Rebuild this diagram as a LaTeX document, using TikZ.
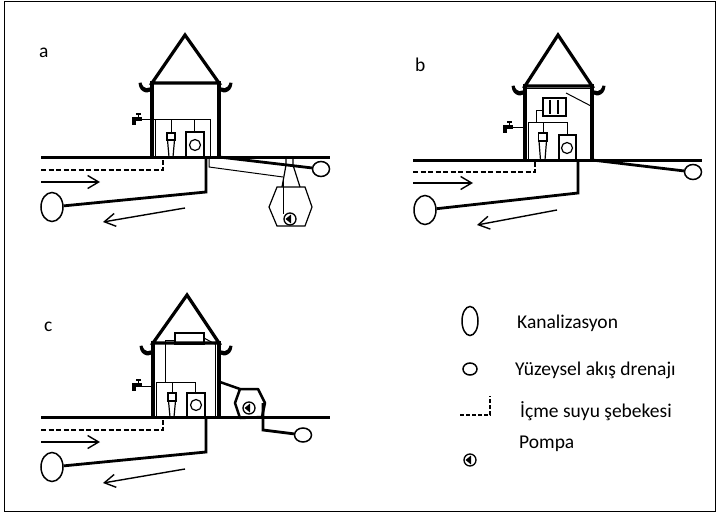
\documentclass[tikz,border=0pt]{standalone}
\usepackage{fontspec}
\setmainfont{Carlito}
\usetikzlibrary{arrows.meta,shapes.geometric}
\begin{document}
\begin{tikzpicture}[x=1pt,y=-1pt,
  wall/.style={line width=3.2pt,line join=miter,line cap=rect},
  ground/.style={line width=3pt},
  thinpipe/.style={line width=1pt},
  pipe/.style={line width=2.8pt,line join=miter},
  water/.style={line width=1.5pt,dash pattern=on 5pt off 2.5pt},
  flow/.style={line width=1.4pt,-{Straight Barb[length=11pt,width=13pt,line width=1.4pt]}},
  sewer/.style={ellipse,draw,line width=1.5pt,minimum width=22pt,minimum height=29pt,inner sep=0pt},
  drain/.style={ellipse,draw,line width=1.5pt,minimum width=17pt,minimum height=15pt,inner sep=0pt},
  lbl/.style={anchor=base west,inner sep=0pt,font=\fontsize{19.5}{22}\selectfont},
  tank/.style={line width=1.2pt},
  curl/.pic={\fill (-13.5,-2) .. controls (-12.5,9.5) and (-1,9.5) .. (1,3) -- (1,-0.5)
              .. controls (-3,5) and (-9,4.5) .. (-10.5,-2.5) -- cycle;},
  pump/.pic={\draw[line width=1.3pt,fill=white] (0,0) circle (6);
             \fill (-4.5,0) -- (1,-4.5) -- (1,4.5) -- cycle;},
  tap/.pic={\fill (0,3) rectangle (10,7); \fill (0,7) rectangle (3.5,11);
            \draw[line width=1.2pt] (4,0) -- (9,0); \draw[line width=1pt] (6.5,0) -- (6.5,3);}
]
\useasboundingbox (0,0) rectangle (717,516);
\draw[line width=1pt] (4.5,1.5) rectangle (715.5,511);

% ---------------- panel a ----------------
\node[lbl] (la) at (39,58) {a};
\draw[wall] (152,83) -- (185,35) -- (219,83) -- cycle;
\draw[wall] (152,83) -- (152,157) (219,83) -- (219,157);
\pic at (152,85) {curl};
\pic[xscale=-1] at (219,85) {curl};
\draw[ground] (41,157) -- (330,157);
\pic at (132,114) {tap};
\draw[thinpipe] (142,120) -- (210,120) -- (210,157);
\draw[thinpipe] (155,120) -- (155,157);
\draw[thinpipe] (171,120) -- (171,133) (194,120) -- (194,132);
\draw[tank] (167,133) rectangle (175,140);
\draw[tank] (167.5,140) -- (169,157) -- (173,157) -- (174.5,140);
\draw[tank] (186,132) rectangle (204,157);
\draw[tank] (195,145) circle (5.5);
\draw[water] (41,170) -- (163,170) -- (163,158);
\draw[flow] (41,182) -- (100,182);
\node[sewer] (sa) at (52,207) {};
\coordinate (sa0) at (206,158);
\draw[pipe] (sa0) -- (206,192) -- (sa);
\draw[flow] (185,208) -- (103,222);
\node[drain] (da) at (321,169) {};
\coordinate (da0) at (219,157);
\draw[pipe] (da0) -- (da);
% septic tank with pump
\draw[thinpipe] (209,157) -- (209,167) -- (283,177);
\draw[tank] (286,158) -- (286,165) -- (282,187) (293,158) -- (293,165) -- (300,187);
\draw[tank] (277,187) -- (305,187) -- (312,207) -- (305,226) -- (277,226) -- (269,207) -- cycle;
\draw[thinpipe] (283,177) -- (283,214);
\pic at (290,219) {pump};

% ---------------- panel b ----------------
\node[lbl] (lb) at (415,72) {b};
\draw[wall] (525,86) -- (558,35) -- (592,86) -- cycle;
\draw[thinpipe] (525,89) -- (592,89);
\draw[wall] (525,86) -- (525,160) (592,86) -- (592,160);
\pic at (525,88) {curl};
\pic[xscale=-1] at (592,88) {curl};
\draw[ground] (413,160) -- (702,160);
\draw[line width=1.5pt] (543,98) rectangle (566,116);
\draw[tank] (550,100) -- (550,114) (558,100) -- (558,114);
\draw[thinpipe] (566,93) -- (591,106);
\draw[thinpipe] (543,111) -- (536,111) -- (536,123);
\draw[thinpipe] (528,160) -- (528,123) -- (567,123) -- (567,135);
\draw[thinpipe] (543,123) -- (543,133);
\pic at (503,122) {tap};
\draw[thinpipe] (513,128) -- (525,128);
\draw[tank] (538.5,133) rectangle (547,141);
\draw[tank] (539,141) -- (540.5,160) -- (545,160) -- (546.5,141);
\draw[tank] (559,135) rectangle (576,160);
\draw[tank] (567,148) circle (5.5);
\draw[water] (413,172) -- (535,172) -- (535,161);
\draw[flow] (413,183) -- (473,183);
\node[sewer] (sb) at (425,210) {};
\coordinate (sb0) at (578,161);
\draw[pipe] (sb0) -- (578,193) -- (sb);
\draw[flow] (557,210) -- (477,225);
\node[drain] (db) at (693,172) {};
\coordinate (db0) at (592,160);
\draw[pipe] (db0) -- (db);

% ---------------- panel c ----------------
\node[lbl] (lc) at (44,331) {c};
\draw[wall] (153,343) -- (187,295) -- (219,343) -- cycle;
\draw[wall] (153,343) -- (153,417) (219,343) -- (219,417);
\draw[thinpipe] (215,343) -- (215,417);
\pic at (153,348) {curl};
\pic[xscale=-1] at (219,348) {curl};
\draw[ground] (41,417) -- (330,417);
\draw[line width=2.5pt] (175,333) rectangle (204,344);
\draw[thinpipe] (175,340) -- (165,340) -- (165,382);
\draw[thinpipe] (204,338) -- (215,344);
\draw[thinpipe] (156,417) -- (156,382) -- (195,382) -- (195,393);
\draw[thinpipe] (172,382) -- (172,393);
\pic at (132,380) {tap};
\draw[thinpipe] (142,386) -- (153,386);
\draw[tank] (168,393) rectangle (176,401);
\draw[tank] (168.5,401) -- (170,417) -- (174,417) -- (175.5,401);
\draw[tank] (187,393) rectangle (205,417);
\draw[tank] (196,405) circle (5.5);
\draw[water] (41,430) -- (163,430) -- (163,418);
\draw[flow] (41,442) -- (100,442);
\node[sewer] (sc) at (52,467) {};
\coordinate (sc0) at (206,418);
\draw[pipe] (sc0) -- (206,452) -- (sc);
\draw[flow] (185,469) -- (103,483);
% pump chamber beside the house
\coordinate (pc0) at (220,382);
\draw[line width=2.5pt,line join=round] (240,389) -- (258,389) -- (265,403) -- (262,417) -- (240,418) -- (235,403) -- cycle;
\draw[line width=2.5pt] (pc0) -- (240,389);
\pic at (249,408) {pump};
\node[drain,minimum width=17pt,minimum height=14pt] (dc) at (303,435) {};
\draw[pipe] (263,403) -- (263,430) -- (dc);

% ---------------- legend ----------------
\node[sewer,minimum width=16pt,minimum height=29pt] (k1) at (470,321) {};
\node[lbl] (k1t) at (517,328) {Kanalizasyon};
\node[drain,minimum width=14pt,minimum height=12pt] (k2) at (470,369) {};
\node[lbl] (k2t) at (515,375) {Yüzeysel akış drenajı};
\coordinate (k3a) at (460,415);
\coordinate (k3b) at (490,396);
\draw[water,line width=1.3pt,dash pattern=on 4pt off 2pt] (k3a) -- (490,415) -- (k3b);
\node[lbl] (k3t) at (520,417) {İçme suyu şebekesi};
\pic at (470,460) {pump};
\node[lbl] (k4t) at (519,448) {Pompa};
\end{tikzpicture}
\end{document}
